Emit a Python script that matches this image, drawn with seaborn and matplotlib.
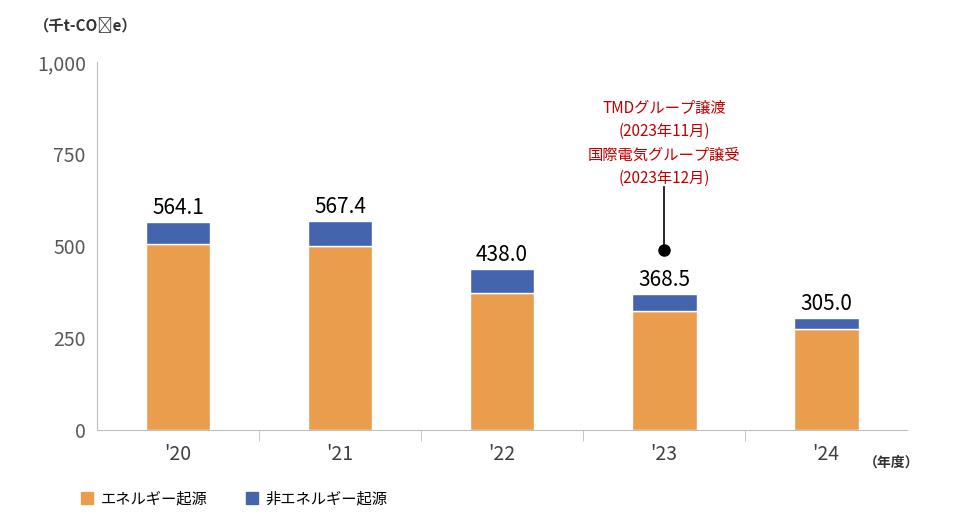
import matplotlib
matplotlib.use('Agg')
import matplotlib.pyplot as plt
import seaborn as sns
import pandas as pd
from matplotlib.patches import Patch

plt.rcParams['font.family'] = 'Noto Sans CJK JP'

years = ["'20", "'21", "'22", "'23", "'24"]
energy = [505, 501, 372, 323, 274]
totals = [564.1, 567.4, 438.0, 368.5, 305.0]
non_energy = [t - e for t, e in zip(totals, energy)]

df = pd.DataFrame({'year': years, 'energy': energy, 'non': non_energy, 'total': totals})

orange = '#EA9D4C'
blue = '#4465AE'

fig = plt.figure(figsize=(9.6, 5.21), dpi=100)
ax = fig.add_axes([0.101, 0.175, 0.844, 0.706])

sns.barplot(data=df, x='year', y='energy', color=orange, width=0.4, ax=ax,
            edgecolor='white', linewidth=1, saturation=1)
sns.barplot(data=df, x='year', y='non', bottom=df['energy'], color=blue, width=0.4,
            ax=ax, edgecolor='white', linewidth=1, saturation=1)

for i, t in enumerate(totals):
    ax.text(i, t + 8, f'{t:.1f}', ha='center', va='bottom', fontsize=15, color='black')

# annotation
ax.plot([3, 3], [489, 660], color='black', lw=1.2)
ax.plot(3, 489, 'o', color='black', ms=8)
ax.text(3, 660, 'TMDグループ譲渡\n(2023年11月)\n国際電気グループ譲受\n(2023年12月)',
        ha='center', va='bottom', color='#C00000', fontsize=11, linespacing=1.5)

ax.set_ylim(0, 1000)
ax.set_xlim(-0.5, 4.5)
ax.set_yticks([0, 250, 500, 750, 1000])
ax.set_yticklabels(['0', '250', '500', '750', '1,000'])
ax.tick_params(axis='y', labelsize=14, labelcolor='#595959', length=0, pad=8)
ax.tick_params(axis='x', labelsize=14, labelcolor='#404040', length=0, pad=10)
ax.set_xticks(range(5), years)
ax.set_xlabel('')
ax.set_ylabel('')
for s in ['top', 'right']:
    ax.spines[s].set_visible(False)
for s in ['left', 'bottom']:
    ax.spines[s].set_color('#BFBFBF')
ax.set_xticks([0.5, 1.5, 2.5, 3.5], minor=True)
ax.tick_params(axis='x', which='minor', length=8, color='#BFBFBF', direction='out')

fig.text(0.035, 0.94, '（千t-CO₂e）', fontsize=11, fontweight='bold', color='#333333')
fig.text(0.9, 0.105, '（年度）', fontsize=10, fontweight='bold', color='#333333')

handles = [Patch(color=orange, label='エネルギー起源'), Patch(color=blue, label='非エネルギー起源')]
fig.legend(handles=handles, loc='lower left', bbox_to_anchor=(0.07, 0.0), ncol=2,
           frameon=False, fontsize=11, handlelength=0.8, handleheight=0.8,
           columnspacing=2.5, handletextpad=0.5)

fig.savefig('out.png', dpi=100)
